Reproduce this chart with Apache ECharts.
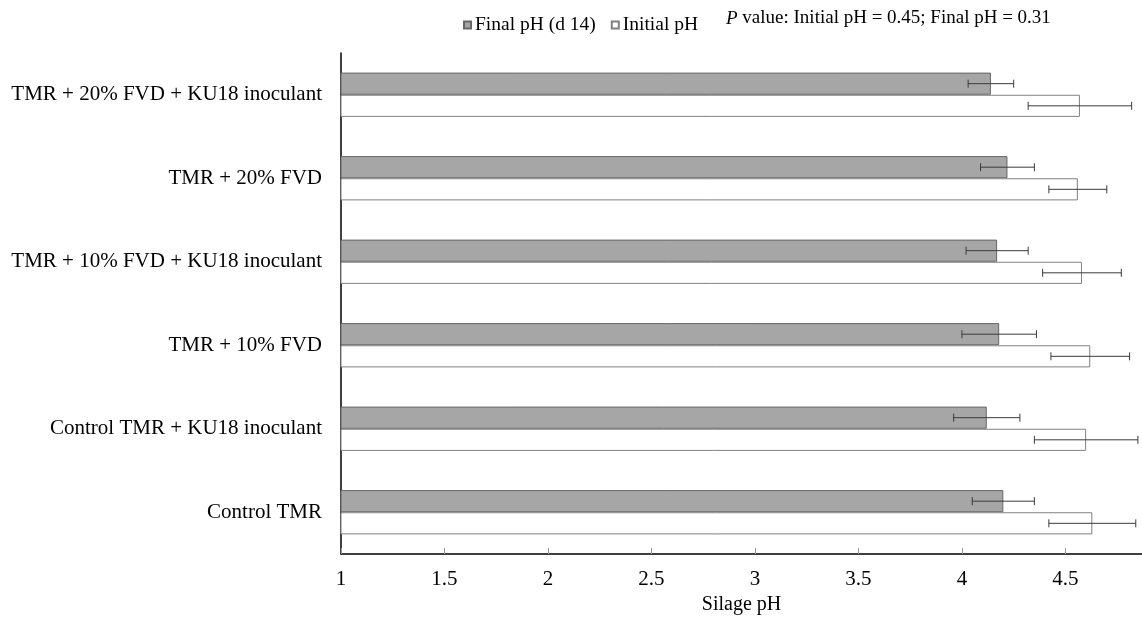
<!DOCTYPE html>
<html>
<head>
<meta charset="utf-8">
<script src="https://cdn.jsdelivr.net/npm/echarts@6/dist/echarts.min.js"></script>
<style>html,body{margin:0;padding:0;background:#fff}#c{width:1142px;height:622px}</style>
</head>
<body>
<div id="c"></div>
<script>
// categories listed bottom to top
const categories = ['Control TMR', 'Control TMR + KU18 inoculant', 'TMR + 10% FVD', 'TMR + 10% FVD + KU18 inoculant', 'TMR + 20% FVD', 'TMR + 20% FVD + KU18 inoculant'];
const finalPH = [4.20, 4.12, 4.18, 4.17, 4.22, 4.14];
const finalErr = [0.15, 0.16, 0.18, 0.15, 0.13, 0.11];
const initialPH = [4.63, 4.60, 4.62, 4.58, 4.56, 4.57];
const initialErr = [0.21, 0.25, 0.19, 0.19, 0.14, 0.25];
const xTicks = [1, 1.5, 2, 2.5, 3, 3.5, 4, 4.5];
const pText = 'value: Initial pH = 0.45; Final pH = 0.31';

const FONT = '"Liberation Serif", "Times New Roman", serif';
const GAP = 0.47; // barCategoryGap fraction

function errRenderer(sign) {
  return function (params, api) {
    const ci = api.value(0);
    const v = api.value(1);
    const e = api.value(2);
    const band = api.size([0, 1])[1];
    const barH = band * (1 - GAP) / 2;
    const c = api.coord([v, ci]);
    const y = c[1] + sign * barH / 2;
    const x1 = api.coord([v - e, ci])[0];
    const x2 = api.coord([v + e, ci])[0];
    const h = 4;
    const style = { stroke: '#3a3a3a', lineWidth: 1 };
    return {
      type: 'group',
      children: [
        { type: 'line', shape: { x1: x1, y1: y, x2: x2, y2: y }, style: style },
        { type: 'line', shape: { x1: x1, y1: y - h, x2: x1, y2: y + h }, style: style },
        { type: 'line', shape: { x1: x2, y1: y - h, x2: x2, y2: y + h }, style: style }
      ]
    };
  };
}

const chart = echarts.init(document.getElementById('c'), null, { renderer: 'canvas' });
chart.setOption({
  animation: false,
  textStyle: { fontFamily: FONT, color: '#000' },
  grid: { left: 341, right: 0, top: 53, bottom: 68, containLabel: false },
  legend: {
    data: ['Final pH (d 14)', 'Initial pH'],
    left: 458, top: 10,
    icon: 'rect', itemWidth: 7, itemHeight: 7, itemGap: 15,
    textStyle: { fontFamily: FONT, fontSize: 19.5, color: '#000', padding: [0, 0, 0, -1] }
  },
  graphic: [{
    type: 'text', left: 726, top: 9,
    style: {
      text: '{i|P} ' + pText,
      font: '19px ' + FONT,
      fill: '#000',
      rich: { i: { fontStyle: 'italic', fontFamily: FONT, fontSize: 19 } }
    }
  }],
  xAxis: {
    type: 'value', min: 1, max: 4.87, interval: 0.5,
    name: 'Silage pH', nameLocation: 'middle', nameGap: 35,
    nameTextStyle: { fontFamily: FONT, fontSize: 20, color: '#000' },
    axisLine: { show: true, lineStyle: { color: '#000', width: 1.5 } },
    axisTick: { show: true, inside: true, length: 6, lineStyle: { color: '#999' } },
    axisLabel: {
      showMaxLabel: false, fontFamily: FONT, fontSize: 21, color: '#000', margin: 15,
      formatter: function (v) { return xTicks.indexOf(Math.round(v * 100) / 100) >= 0 ? String(v) : ''; }
    },
    splitLine: { show: false }
  },
  yAxis: {
    type: 'category', data: categories,
    axisLine: { show: true, lineStyle: { color: '#000', width: 1.5 } },
    axisTick: { show: false },
    axisLabel: { fontFamily: FONT, fontSize: 21, color: '#000', margin: 19 }
  },
  series: [
    {
      name: 'Final pH (d 14)', type: 'bar', data: finalPH,
      barGap: '0%', barCategoryGap: (GAP * 100) + '%',
      itemStyle: { color: '#a6a6a6', borderColor: '#666666', borderWidth: 1 }
    },
    {
      name: 'Initial pH', type: 'bar', data: initialPH,
      barGap: '0%', barCategoryGap: (GAP * 100) + '%',
      itemStyle: { color: '#ffffff', borderColor: '#808080', borderWidth: 1 }
    },
    {
      name: 'errFinal', type: 'custom', renderItem: errRenderer(-1),
      data: categories.map((c, i) => [i, finalPH[i], finalErr[i]]),
      encode: { x: 1, y: 0 }, z: 5, silent: true
    },
    {
      name: 'errInitial', type: 'custom', renderItem: errRenderer(1),
      data: categories.map((c, i) => [i, initialPH[i], initialErr[i]]),
      encode: { x: 1, y: 0 }, z: 5, silent: true
    }
  ]
});
</script>
</body>
</html>
